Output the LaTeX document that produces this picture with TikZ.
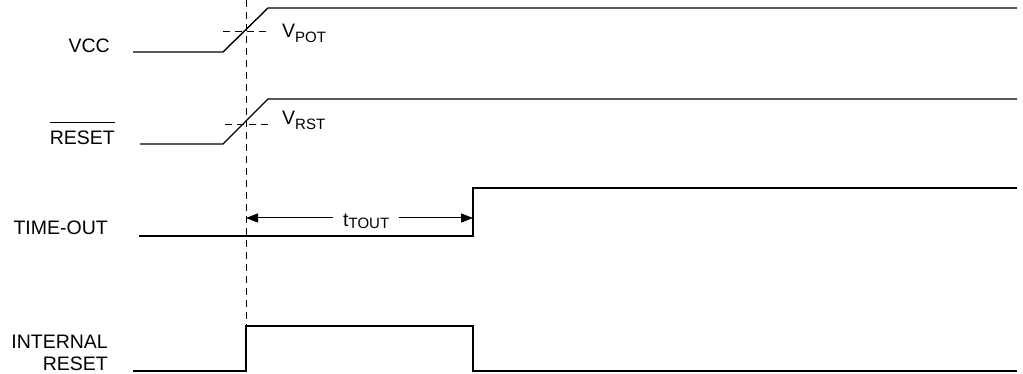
\documentclass[tikz,border=0pt]{standalone}
\usepackage{fontspec}
\setmainfont{Liberation Sans}
\usetikzlibrary{arrows.meta}
\newcommand\lowsub[2]{\raisebox{-#1}{\fontsize{15}{15}\selectfont #2}}
\begin{document}
\begin{tikzpicture}[x=1pt,y=-1pt,
  sig/.style={line width=1.4pt,black},
  guide/.style={line width=0.9pt,dash pattern=on 7pt off 5pt},
  lbl/.style={font=\fontsize{19.5}{23}\selectfont,inner sep=0pt},
  dim/.style={line width=1pt,{Triangle[length=12pt,width=9pt]}-{Triangle[length=12pt,width=9pt]}}]
\useasboundingbox (0,0) rectangle (1023,374);
% signal labels
\node[lbl,anchor=base east] (lvcc) at (110,53) {VCC};
\node[lbl,anchor=base east] (lrst) at (115,145) {RESET};
\draw[line width=1pt] ([yshift=8.5pt]lrst.north west) -- ([yshift=8.5pt]lrst.north east);
\node[lbl,anchor=base east] (lto) at (108,235) {TIME-OUT};
\node[lbl,anchor=base east] (lir1) at (108,348) {INTERNAL};
\node[lbl,anchor=base east] (lir2) at (108,370) {RESET};
% VCC
\coordinate (v0) at (133,52); \coordinate (v1) at (223,52);
\coordinate (v2) at (268,8); \coordinate (v3) at (1017,8);
\draw[sig] (v0) -- (v1) -- (v2) -- (v3);
% RESET
\coordinate (r0) at (140,144); \coordinate (r1) at (223,144);
\coordinate (r2) at (268,99); \coordinate (r3) at (1017,99);
\draw[sig] (r0) -- (r1) -- (r2) -- (r3);
% TIME-OUT
\coordinate (t0) at (139,236); \coordinate (t1) at (473,236);
\coordinate (t2) at (473,188); \coordinate (t3) at (1017,188);
\draw[sig] (t0) -- (t1) -- (t2) -- (t3);
% INTERNAL RESET
\coordinate (i0) at (133,371); \coordinate (i1) at (246,371);
\coordinate (i2) at (246,326); \coordinate (i3) at (473,326);
\coordinate (i4) at (473,371); \coordinate (i5) at (1017,371);
\draw[sig] (i0) -- (i1) -- (i2) -- (i3) -- (i4) -- (i5);
% guides
\coordinate (g0) at (246,0); \coordinate (g1) at (246,326);
\draw[guide] (g0) -- (g1);
\coordinate (pa) at (223,31); \coordinate (pb) at (270,31);
\draw[guide] (pa) -- (pb);
\coordinate (ra) at (225,124); \coordinate (rb) at (270,124);
\draw[guide] (ra) -- (rb);
\node[lbl,anchor=base west] (vpot) at (282,38) {V\lowsub{5pt}{POT}};
\node[lbl,anchor=base west] (vrst) at (282,125) {V\lowsub{5pt}{RST}};
% tTOUT dimension
\coordinate (da) at (246,218); \coordinate (db) at (473,218);
\coordinate (ga) at (333,218); \coordinate (gb) at (399,218);
\draw[dim,-{Triangle[length=12pt,width=9pt]}] (ga) -- (da);
\draw[dim,-{Triangle[length=12pt,width=9pt]}] (gb) -- (db);
\node[lbl,anchor=base west] (tt) at (343,227) {t\lowsub{1.5pt}{TOUT}};
\end{tikzpicture}
\end{document}
